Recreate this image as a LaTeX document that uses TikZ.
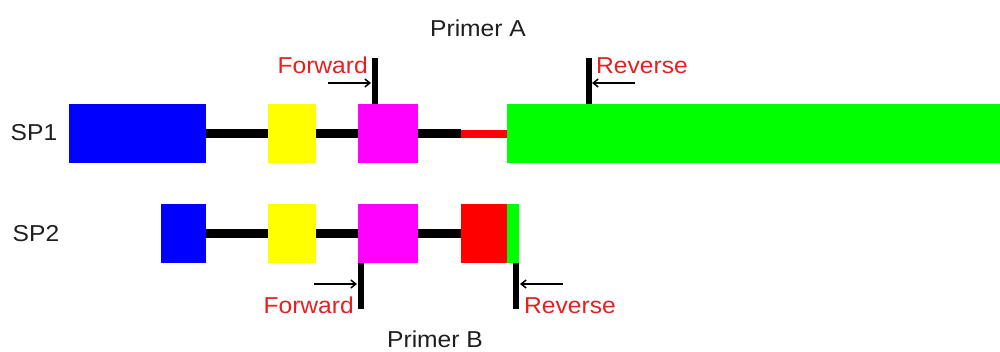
\documentclass[tikz,border=0pt]{standalone}
\usepackage{fontspec}
\setmainfont{Liberation Sans}
\newfontfamily\lblfont[FakeStretch=1.07]{Liberation Sans}
\usetikzlibrary{arrows.meta,calc}
\definecolor{lblred}{RGB}{228,32,32}
\definecolor{lbltxt}{RGB}{30,30,30}
\definecolor{cblue}{RGB}{0,0,255}
\definecolor{cyellow}{RGB}{255,255,0}
\definecolor{cmag}{RGB}{255,0,255}
\definecolor{cred}{RGB}{255,0,0}
\definecolor{cgreen}{RGB}{0,255,0}
\tikzset{
  seg/.style={fill=#1, draw=none, inner sep=0pt, outer sep=0pt, anchor=north west},
  link/.style={line width=9pt, black},
  redlink/.style={line width=8pt, cred},
  primerbar/.style={line width=6pt, black},
  primerarrow/.style={line width=1.8pt, black, -{Straight Barb[length=5pt,width=8pt,line width=1.5pt]}},
  lbl/.style={font=\lblfont\fontsize{23}{26}\selectfont, inner sep=0pt},
  redlbl/.style={lbl, text=lblred},
  blklbl/.style={lbl, text=lbltxt}
}
\begin{document}
\begin{tikzpicture}[x=1pt,y=-1pt]
\useasboundingbox (0,0) rectangle (1000,351);
% SP1
\node[seg=cblue, minimum width=137pt, minimum height=59pt] (b1) at (69,104) {};
\node[seg=cyellow, minimum width=48pt, minimum height=59pt] (y1) at (268,104) {};
\node[seg=cmag, minimum width=60pt, minimum height=59pt] (m1) at (358,104) {};
\node[seg=cgreen, minimum width=493pt, minimum height=59pt] (g1) at (507,104) {};
\coordinate (rs1) at (461,133.5);
\draw[link] (b1.east) -- (y1.west);
\draw[link] (y1.east) -- (m1.west);
\draw[link] (m1.east) -- (rs1);
\draw[redlink] (rs1) -- (g1.west);
% SP2
\node[seg=cblue, minimum width=45pt, minimum height=59pt] (b2) at (161,204) {};
\node[seg=cyellow, minimum width=48pt, minimum height=59pt] (y2) at (268,204) {};
\node[seg=cmag, minimum width=60pt, minimum height=59pt] (m2) at (358,204) {};
\node[seg=cred, minimum width=46pt, minimum height=59pt] (r2) at (461,204) {};
\node[seg=cgreen, minimum width=12pt, minimum height=59pt] (g2) at (507,204) {};
\draw[link] (b2.east) -- (y2.west);
\draw[link] (y2.east) -- (m2.west);
\draw[link] (m2.east) -- (r2.west);
% labels
\node[blklbl] (sp1) at (34,133) {SP1};
\node[blklbl] (sp2) at (36,234) {SP2};
\node[blklbl, anchor=base] (pa) at (478,36) {Primer A};
\node[blklbl, anchor=base] (pb) at (435,347) {Primer B};
% Primer A bars
\coordinate (fa) at (375,58);
\coordinate (ra) at (588.5,58);
\draw[primerbar] (fa) -- (fa |- m1.north);
\draw[primerbar] (ra) -- (ra |- g1.north);
\coordinate (fas) at (328,83);
\coordinate (fae) at (371,83);
\coordinate (ras) at (635,83);
\coordinate (rae) at (592,83);
\draw[primerarrow] (fas) -- (fae);
\draw[primerarrow] (ras) -- (rae);
\node[redlbl, anchor=base east] (fwa) at (368,73) {Forward};
\node[redlbl, anchor=base west] (rva) at (596,73) {Reverse};
% Primer B bars
\coordinate (fb) at (361,309);
\coordinate (rb) at (516,309);
\draw[primerbar] (fb |- m2.south) -- (fb);
\draw[primerbar] (rb |- g2.south) -- (rb);
\coordinate (fbs) at (314,284);
\coordinate (fbe) at (357,284);
\coordinate (rbs) at (563,284);
\coordinate (rbe) at (520,284);
\draw[primerarrow] (fbs) -- (fbe);
\draw[primerarrow] (rbs) -- (rbe);
\node[redlbl, anchor=base east] (fwb) at (354,313) {Forward};
\node[redlbl, anchor=base west] (rvb) at (524,313) {Reverse};
\end{tikzpicture}
\end{document}
